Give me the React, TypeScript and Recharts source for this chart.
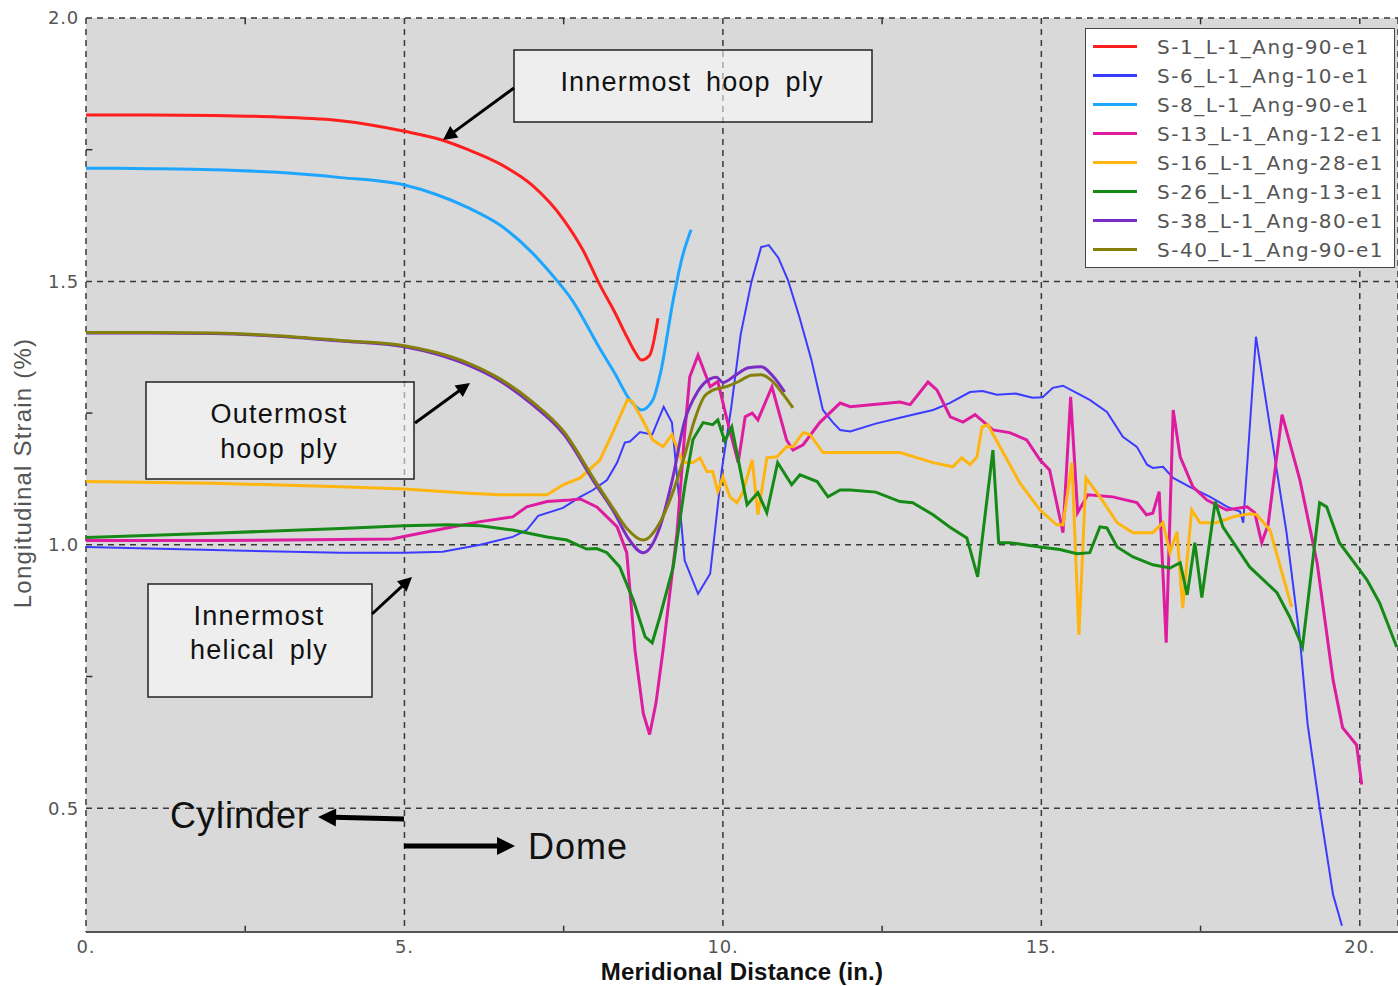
import { LineChart, Line, XAxis, YAxis, CartesianGrid, Legend, ReferenceLine } from 'recharts'

type Pt = [number, number]

// series: [meridional distance (in.), strain (%)]
const S1: Pt[] = [[0, 1.816], [1, 1.816], [2, 1.815], [3, 1.812], [4, 1.805], [5, 1.785], [5.6, 1.768], [6, 1.75], [6.5, 1.723], [7, 1.683], [7.5, 1.617], [7.8, 1.56], [8.07, 1.493], [8.3, 1.442], [8.5, 1.393], [8.62, 1.366], [8.72, 1.351], [8.85, 1.36], [8.98, 1.43]]
const S6: Pt[] = [[0, 0.996], [2, 0.99], [4, 0.985], [5, 0.985], [5.6, 0.987], [6.19, 1.0], [6.7, 1.015], [6.92, 1.028], [7.1, 1.055], [7.49, 1.07], [7.76, 1.091], [7.96, 1.104], [8.18, 1.123], [8.34, 1.156], [8.46, 1.194], [8.54, 1.196], [8.7, 1.214], [8.89, 1.209], [9.07, 1.262], [9.2, 1.232], [9.28, 1.13], [9.4, 0.97], [9.61, 0.907], [9.8, 0.945], [9.98, 1.14], [10.13, 1.26], [10.28, 1.4], [10.45, 1.5], [10.6, 1.565], [10.72, 1.569], [10.87, 1.545], [11.02, 1.503], [11.2, 1.433], [11.39, 1.351], [11.57, 1.256], [11.73, 1.232], [11.84, 1.218], [12.0, 1.215], [12.4, 1.23], [12.78, 1.241], [12.98, 1.247], [13.3, 1.256], [13.56, 1.269], [13.88, 1.29], [14.08, 1.292], [14.3, 1.285], [14.6, 1.287], [14.86, 1.279], [15.02, 1.28], [15.18, 1.298], [15.34, 1.302], [15.56, 1.288], [15.76, 1.275], [16.03, 1.252], [16.28, 1.205], [16.5, 1.186], [16.66, 1.152], [16.75, 1.146], [16.91, 1.148], [17.07, 1.127], [17.33, 1.11], [17.65, 1.091], [17.92, 1.072], [18.12, 1.063], [18.17, 1.042], [18.37, 1.395], [18.59, 1.224], [18.85, 1.023], [19.06, 0.82], [19.18, 0.66], [19.37, 0.5], [19.58, 0.336], [19.72, 0.277]]
const S8: Pt[] = [[0, 1.715], [1, 1.714], [2, 1.712], [3, 1.707], [4, 1.697], [5, 1.683], [5.5, 1.665], [6, 1.64], [6.5, 1.607], [7, 1.555], [7.3, 1.515], [7.63, 1.465], [8.07, 1.372], [8.3, 1.326], [8.54, 1.275], [8.72, 1.256], [8.9, 1.275], [9.02, 1.326], [9.22, 1.465], [9.36, 1.545], [9.5, 1.598]]
const S13: Pt[] = [[0, 1.008], [2, 1.008], [4, 1.01], [4.8, 1.011], [5.13, 1.019], [5.67, 1.032], [6.19, 1.044], [6.7, 1.053], [6.92, 1.072], [7.24, 1.082], [7.6, 1.085], [7.76, 1.087], [8.02, 1.072], [8.34, 1.034], [8.49, 0.985], [8.62, 0.8], [8.75, 0.68], [8.85, 0.64], [8.95, 0.7], [9.06, 0.8], [9.28, 1.023], [9.4, 1.212], [9.48, 1.319], [9.61, 1.36], [9.8, 1.3], [9.92, 1.31], [10.06, 1.24], [10.24, 1.156], [10.35, 1.243], [10.46, 1.25], [10.55, 1.237], [10.77, 1.3], [11.0, 1.199], [11.1, 1.18], [11.26, 1.19], [11.52, 1.232], [11.84, 1.269], [12.0, 1.262], [12.78, 1.271], [12.94, 1.266], [13.22, 1.309], [13.36, 1.294], [13.57, 1.243], [13.77, 1.233], [13.96, 1.247], [14.24, 1.218], [14.5, 1.213], [14.77, 1.199], [14.98, 1.161], [15.13, 1.142], [15.34, 1.023], [15.46, 1.281], [15.57, 1.061], [15.73, 1.095], [16.12, 1.091], [16.5, 1.08], [16.65, 1.057], [16.75, 1.06], [16.85, 1.101], [16.96, 0.814], [17.07, 1.256], [17.18, 1.167], [17.38, 1.11], [17.6, 1.085], [17.91, 1.066], [18.23, 1.072], [18.35, 1.061], [18.46, 1.004], [18.56, 1.038], [18.78, 1.247], [19.06, 1.123], [19.33, 0.966], [19.58, 0.744], [19.73, 0.653], [19.95, 0.62], [20.03, 0.545]]
const S16: Pt[] = [[0, 1.12], [2, 1.117], [4, 1.11], [5, 1.106], [6, 1.098], [6.5, 1.095], [7.24, 1.095], [7.49, 1.114], [7.76, 1.127], [8.07, 1.161], [8.27, 1.213], [8.5, 1.275], [8.57, 1.273], [8.74, 1.237], [8.9, 1.199], [9.06, 1.186], [9.2, 1.209], [9.37, 1.156], [9.53, 1.156], [9.64, 1.165], [9.75, 1.139], [9.84, 1.139], [9.92, 1.101], [10.0, 1.129], [10.11, 1.091], [10.22, 1.08], [10.31, 1.099], [10.46, 1.161], [10.55, 1.057], [10.69, 1.165], [10.85, 1.167], [11.0, 1.186], [11.1, 1.186], [11.26, 1.213], [11.37, 1.209], [11.57, 1.175], [12.0, 1.175], [12.78, 1.175], [13.3, 1.156], [13.61, 1.148], [13.75, 1.165], [13.88, 1.152], [13.99, 1.167], [14.07, 1.224], [14.16, 1.228], [14.35, 1.186], [14.66, 1.118], [14.98, 1.066], [15.24, 1.038], [15.34, 1.038], [15.48, 1.156], [15.59, 0.829], [15.7, 1.127], [15.92, 1.091], [16.19, 1.042], [16.44, 1.023], [16.75, 1.023], [16.91, 1.042], [17.02, 0.985], [17.13, 1.025], [17.22, 0.88], [17.36, 1.066], [17.49, 1.042], [17.75, 1.042], [18.01, 1.053], [18.27, 1.059], [18.38, 1.057], [18.59, 1.028], [18.93, 0.882]]
const S26: Pt[] = [[0, 1.014], [2, 1.022], [4, 1.031], [5, 1.036], [5.67, 1.038], [6.19, 1.036], [6.7, 1.028], [7.24, 1.015], [7.55, 1.009], [7.86, 0.992], [8.02, 0.993], [8.18, 0.985], [8.38, 0.958], [8.59, 0.896], [8.78, 0.825], [8.89, 0.814], [9.01, 0.863], [9.22, 0.958], [9.4, 1.11], [9.53, 1.2], [9.69, 1.232], [9.84, 1.228], [9.92, 1.237], [10.03, 1.197], [10.14, 1.224], [10.38, 1.076], [10.55, 1.099], [10.69, 1.061], [10.86, 1.156], [11.08, 1.114], [11.21, 1.133], [11.48, 1.12], [11.65, 1.091], [11.84, 1.104], [12.0, 1.104], [12.4, 1.1], [12.78, 1.082], [12.98, 1.08], [13.3, 1.057], [13.56, 1.034], [13.83, 1.013], [14.0, 0.939], [14.24, 1.18], [14.33, 1.004], [14.5, 1.004], [14.98, 0.996], [15.29, 0.991], [15.56, 0.983], [15.76, 0.985], [15.92, 1.034], [16.03, 1.032], [16.19, 0.996], [16.44, 0.977], [16.75, 0.962], [17.02, 0.956], [17.18, 0.966], [17.29, 0.905], [17.41, 1.004], [17.52, 0.9], [17.73, 1.082], [17.85, 1.034], [18.27, 0.958], [18.7, 0.909], [18.9, 0.863], [19.1, 0.806], [19.37, 1.08], [19.48, 1.072], [19.68, 1.004], [20.11, 0.934], [20.31, 0.89], [20.58, 0.806]]
const S38: Pt[] = [[0, 1.402], [1, 1.402], [2, 1.401], [3, 1.396], [4, 1.387], [5, 1.376], [5.5, 1.362], [6, 1.341], [6.5, 1.311], [7, 1.267], [7.5, 1.21], [8, 1.115], [8.3, 1.06], [8.5, 1.015], [8.75, 0.985], [9.0, 1.03], [9.2, 1.12], [9.4, 1.235], [9.6, 1.29], [9.8, 1.315], [9.9, 1.318], [10.0, 1.308], [10.2, 1.322], [10.4, 1.336], [10.6, 1.338], [10.8, 1.318], [10.97, 1.29]]
const S40: Pt[] = [[0, 1.403], [1, 1.403], [2, 1.402], [3, 1.397], [4, 1.388], [5, 1.378], [5.5, 1.365], [6, 1.345], [6.5, 1.315], [7, 1.272], [7.5, 1.215], [8, 1.12], [8.3, 1.065], [8.5, 1.03], [8.75, 1.009], [9.0, 1.04], [9.2, 1.095], [9.4, 1.17], [9.55, 1.235], [9.7, 1.28], [9.85, 1.294], [10.05, 1.3], [10.25, 1.31], [10.45, 1.322], [10.6, 1.323], [10.78, 1.31], [10.95, 1.285], [11.1, 1.26]]

const NAMES = ['S-1_L-1_Ang-90-e1', 'S-6_L-1_Ang-10-e1', 'S-8_L-1_Ang-90-e1', 'S-13_L-1_Ang-12-e1', 'S-16_L-1_Ang-28-e1', 'S-26_L-1_Ang-13-e1', 'S-38_L-1_Ang-80-e1', 'S-40_L-1_Ang-90-e1']
const COLORS = ['#ff1f1f', '#3b3bff', '#1ea6ff', '#de1c9f', '#ffb50f', '#168a16', '#7b2cc4', '#84800c']
const WIDTHS = [3, 2, 3, 3, 3, 3, 3, 3]
const SMOOTH = [true, false, true, false, false, false, true, true]
const SERIES = [S1, S6, S8, S13, S16, S26, S38, S40]

const X_TICKS = [0, 5, 10, 15, 20]
const Y_TICKS = [0.5, 1, 1.5, 2]
const MINOR_X = [2.5, 7.5, 12.5, 17.5]
const MINOR_Y = [0.75, 1.25, 1.75]
const X_MAX = 20.6
const Y_MIN = 0.265

const W = 1398
const H = 986
const TICK_STYLE = { fill: '#555', fontSize: 18, fontFamily: 'DejaVu Sans', letterSpacing: 0.8 } as const
const SANS = '"Liberation Sans", Arial, sans-serif'

const toPts = (s: Pt[]) => s.map(([x, y]) => ({ x, y }))

function XTitle({ viewBox }: any) {
  const { x, y, width } = viewBox
  return (
    <text x={x + width / 2} y={y + 48} textAnchor="middle" fontFamily={SANS} fontWeight="bold" fontSize={24} letterSpacing={0.2} fill="#111">
      Meridional Distance (in.)
    </text>
  )
}

function YTitle({ viewBox }: any) {
  const { x, y, height } = viewBox
  const cx = x + 31
  const cy = y + height / 2 - 2
  return (
    <text x={cx} y={cy} transform={`rotate(-90 ${cx} ${cy})`} textAnchor="middle" fontFamily={SANS} fontSize={24} letterSpacing={1.2} fill="#555">
      Longitudinal Strain (%)
    </text>
  )
}

function LegendBox() {
  return (
    <div style={{ width: 310, height: 240, boxSizing: 'border-box', background: '#fff', border: '1.5px solid #444', paddingTop: 3 }}>
      {NAMES.map((n, i) => (
        <div key={n} style={{ display: 'flex', alignItems: 'center', height: 29 }}>
          <span style={{ display: 'inline-block', width: 44, height: 3, marginLeft: 7, background: COLORS[i] }} />
          <span style={{ marginLeft: 20, fontFamily: 'DejaVu Sans', fontSize: 20, letterSpacing: 1.5, color: '#555', whiteSpace: 'nowrap' }}>{n}</span>
        </div>
      ))}
    </div>
  )
}

function Arrow({ x1, y1, x2, y2, w = 3, head = 14 }: { x1: number; y1: number; x2: number; y2: number; w?: number; head?: number }) {
  const dx = x2 - x1
  const dy = y2 - y1
  const len = Math.hypot(dx, dy)
  const ux = dx / len
  const uy = dy / len
  const bx = x2 - ux * head
  const by = y2 - uy * head
  const hw = head * 0.5
  const pts = `${x2},${y2} ${bx - uy * hw},${by + ux * hw} ${bx + uy * hw},${by - ux * hw}`
  return (
    <g>
      <line x1={x1} y1={y1} x2={bx + ux * 2} y2={by + uy * 2} stroke="#000" strokeWidth={w} />
      <polygon points={pts} fill="#000" />
    </g>
  )
}

function Annotations() {
  const box = { fill: '#fff', fillOpacity: 0.55, stroke: '#222', strokeWidth: 1.5 }
  const txt = { fontFamily: SANS, fontSize: 27, fill: '#111', textAnchor: 'middle' as const, wordSpacing: 6, letterSpacing: 1.2 }
  return (
    <svg width={W} height={H} style={{ position: 'absolute', left: 0, top: 0, pointerEvents: 'none' }}>
      <rect x={514} y={50} width={358} height={72} {...box} />
      <text x={692} y={91} {...txt}>Innermost hoop ply</text>
      <Arrow x1={514} y1={88} x2={443} y2={140} />

      <rect x={146} y={382} width={268} height={97} {...box} />
      <text x={279} y={423} {...txt}>Outermost</text>
      <text x={279} y={458} {...txt}>hoop ply</text>
      <Arrow x1={415} y1={423} x2={470} y2={383} />

      <rect x={148} y={584} width={224} height={113} {...box} />
      <text x={259} y={625} {...txt}>Innermost</text>
      <text x={259} y={659} {...txt}>helical ply</text>
      <Arrow x1={372} y1={614} x2={412} y2={577} />

      <text x={170} y={828} fontFamily={SANS} fontSize={36} letterSpacing={1} fill="#111">Cylinder</text>
      <Arrow x1={404} y1={819} x2={318} y2={817} w={5} head={18} />
      <text x={528} y={859} fontFamily={SANS} fontSize={36} letterSpacing={1} fill="#111">Dome</text>
      <Arrow x1={404} y1={846} x2={515} y2={846} w={5} head={18} />
    </svg>
  )
}

export default function App() {
  return (
    <div style={{ position: 'absolute', left: 0, top: 0, width: W, height: H, background: '#fff' }}>
      <LineChart width={W} height={H} margin={{ top: 18, right: 0, bottom: 0, left: 0 }}>
        <CartesianGrid fill="#d9d9d9" fillOpacity={1} stroke="#3a3a3a" strokeWidth={1.5} strokeDasharray="6 5" />
        <XAxis
          type="number"
          dataKey="x"
          domain={[0, X_MAX]}
          ticks={X_TICKS}
          tickFormatter={(v: number) => `${v}.`}
          tick={TICK_STYLE}
          tickLine={false}
          tickSize={5}
          tickMargin={3}
          height={54}
          axisLine={{ stroke: '#555', strokeWidth: 2 }}
          allowDataOverflow
          label={<XTitle />}
        />
        <YAxis
          type="number"
          dataKey="y"
          domain={[Y_MIN, 2]}
          ticks={Y_TICKS}
          tickFormatter={(v: number) => v.toFixed(1)}
          tick={TICK_STYLE}
          tickLine={false}
          tickSize={4}
          tickMargin={3}
          width={86}
          axisLine={false}
          allowDataOverflow
          label={<YTitle />}
        />
        {MINOR_X.map((v) => (
          <ReferenceLine key={`b${v}`} segment={[{ x: v, y: Y_MIN }, { x: v, y: Y_MIN + 0.012 }]} stroke="#333" strokeWidth={1.5} />
        ))}
        {MINOR_X.map((v) => (
          <ReferenceLine key={`t${v}`} segment={[{ x: v, y: 2 }, { x: v, y: 1.988 }]} stroke="#333" strokeWidth={1.5} />
        ))}
        {MINOR_Y.map((v) => (
          <ReferenceLine key={`l${v}`} segment={[{ x: 0, y: v }, { x: 0.1, y: v }]} stroke="#333" strokeWidth={1.5} />
        ))}
        {SERIES.map((s, i) => (
          <Line
            key={NAMES[i]}
            name={NAMES[i]}
            data={toPts(s)}
            dataKey="y"
            type={SMOOTH[i] ? 'monotone' : 'linear'}
            stroke={COLORS[i]}
            strokeWidth={WIDTHS[i]}
            dot={false}
            activeDot={false}
            isAnimationActive={false}
          />
        ))}
        <Legend
          layout="vertical"
          align="center"
          verticalAlign="middle"
          content={<LegendBox />}
          wrapperStyle={{ top: 28, left: 1085, width: 310, height: 240 }}
        />
      </LineChart>
      <Annotations />
    </div>
  )
}
